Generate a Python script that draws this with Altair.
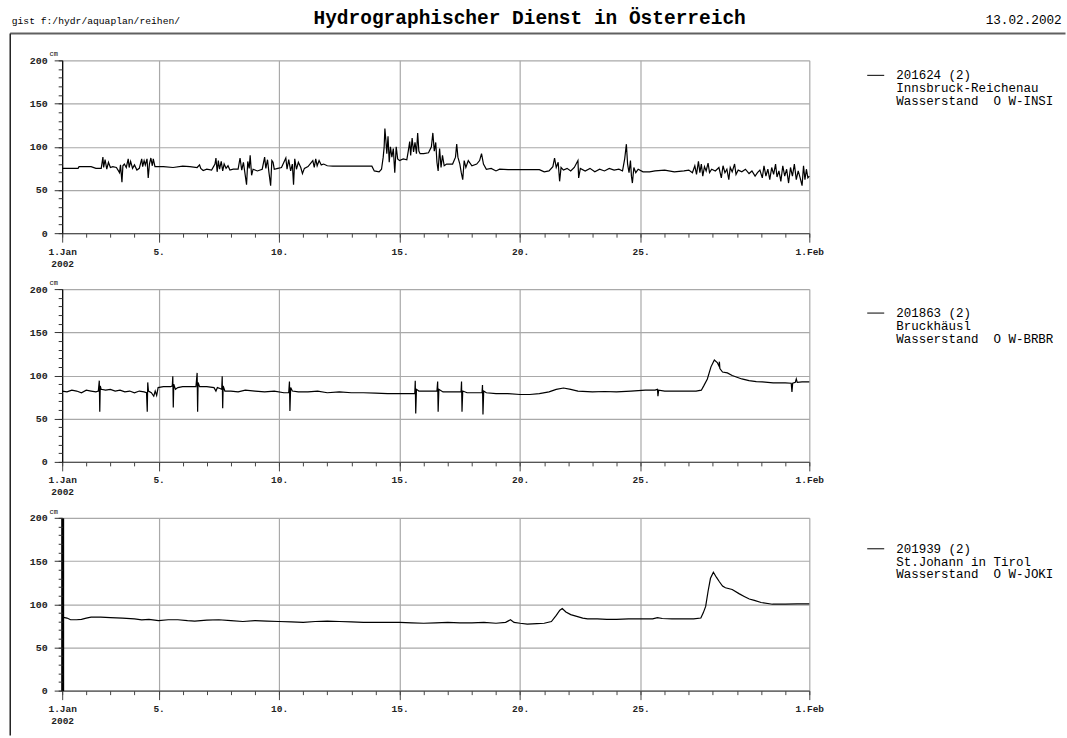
import altair as alt
import pandas as pd

header_left = "gist f:/hydr/aquaplan/reihen/"
header_title = "Hydrographischer Dienst in Österreich"
header_date = "13.02.2002"
unit_label = "cm"

x_tick_days = [1, 5, 10, 15, 20, 25, 32]
x_tick_labels = [["1.Jan", "2002"], ["5."], ["10."], ["15."], ["20."], ["25."], ["1.Feb"]]
x_minor_days = list(range(1, 33))
y_major = [0, 50, 100, 150, 200]
y_minor = list(range(0, 201, 10))

legend_insi = ["201624 (2)", "Innsbruck-Reichenau", "Wasserstand\u00a0\u00a0O W-INSI"]
legend_brbr = ["201863 (2)", "Bruckhäusl", "Wasserstand\u00a0\u00a0O W-BRBR"]
legend_joki = ["201939 (2)", "St.Johann in Tirol", "Wasserstand\u00a0\u00a0O W-JOKI"]

# (day of January, water level in cm)
insi = [
    (1.00, 75), (1.30, 75), (1.66, 75), (1.70, 77), (2.20, 77), (2.40, 75), (2.62, 75),
    (2.69, 88), (2.72, 76), (2.78, 85), (2.85, 74), (2.92, 82), (3.00, 76), (3.10, 77), (3.25, 76),
    (3.38, 70), (3.42, 79), (3.48, 59), (3.52, 78), (3.58, 80), (3.66, 76), (3.74, 86), (3.78, 76),
    (3.84, 83), (3.92, 75), (4.00, 79), (4.10, 73), (4.20, 75),
    (4.30, 86), (4.34, 77), (4.40, 84), (4.45, 79), (4.52, 86), (4.57, 64), (4.62, 80), (4.68, 87),
    (4.74, 78), (4.78, 86), (4.85, 77),
    (5.2, 77), (5.6, 76), (6.0, 77.5), (6.3, 77), (6.6, 76), (6.70, 79), (6.75, 75), (6.85, 72.5),
    (7.0, 74), (7.2, 73),
    (7.34, 80), (7.38, 87), (7.43, 71), (7.48, 84), (7.53, 74), (7.60, 83), (7.66, 72), (7.72, 80),
    (7.80, 75), (7.88, 78), (7.96, 73),
    (8.1, 74), (8.3, 74), (8.38, 87), (8.45, 73), (8.52, 82), (8.58, 70), (8.65, 56), (8.70, 83),
    (8.76, 75), (8.80, 90), (8.86, 67), (8.92, 74),
    (9.1, 72), (9.3, 74), (9.40, 88), (9.45, 75), (9.52, 85), (9.58, 70), (9.65, 55), (9.70, 84),
    (9.75, 82), (9.80, 74), (9.95, 75), (10.1, 76),
    (10.28, 87), (10.33, 74), (10.40, 85), (10.48, 72), (10.55, 80), (10.60, 56), (10.65, 86),
    (10.72, 74), (10.80, 82), (10.90, 76), (10.97, 69), (11.05, 75),
    (11.2, 77), (11.40, 84), (11.46, 76), (11.52, 86), (11.58, 78), (11.66, 84), (11.75, 79),
    (11.85, 80), (12.0, 78), (12.23, 77.5), (13.0, 77.5), (13.85, 77.5),
    (13.95, 72), (14.15, 71), (14.25, 74), (14.32, 88), (14.36, 100), (14.39, 121), (14.43, 108),
    (14.47, 92), (14.52, 112), (14.57, 82), (14.62, 100), (14.68, 88), (14.74, 98), (14.80, 70),
    (14.86, 100), (14.92, 86),
    (15.0, 84), (15.15, 86), (15.3, 85), (15.36, 95), (15.42, 106), (15.46, 90), (15.52, 110),
    (15.58, 94), (15.64, 105), (15.70, 92), (15.75, 116), (15.80, 95), (15.85, 92), (16.0, 92),
    (16.2, 93),
    (16.32, 100), (16.38, 116), (16.44, 95), (16.50, 105), (16.55, 82), (16.60, 72), (16.66, 98),
    (16.72, 76), (16.78, 90), (16.85, 78), (16.95, 80), (17.2, 80),
    (17.32, 88), (17.37, 103), (17.42, 88), (17.50, 80), (17.56, 70), (17.62, 62), (17.68, 84),
    (17.75, 76), (17.85, 84), (18.0, 78), (18.2, 80), (18.32, 84), (18.40, 92), (18.48, 80),
    (18.6, 74), (18.8, 75), (19.0, 72), (19.15, 74),
    (19.5, 73.5), (20.0, 73.5), (20.8, 73.5), (21.0, 71), (21.2, 72), (21.36, 77), (21.43, 87),
    (21.50, 76), (21.58, 82), (21.64, 60), (21.70, 76), (21.80, 73), (21.95, 75), (22.1, 72),
    (22.25, 76), (22.40, 84), (22.43, 64), (22.5, 75), (22.7, 72), (22.9, 75), (23.1, 71),
    (23.3, 74), (23.5, 72), (23.7, 75), (23.9, 73), (24.1, 74), (24.25, 72),
    (24.34, 86), (24.41, 103), (24.46, 80), (24.52, 70), (24.58, 84), (24.62, 66), (24.66, 58),
    (24.72, 76), (24.80, 70), (24.9, 74), (25.1, 71), (25.37, 71),
    (25.6, 72), (26.0, 73), (26.4, 71), (26.8, 72), (27.0, 73), (27.15, 70), (27.25, 78),
    (27.32, 68), (27.40, 83), (27.46, 70), (27.52, 80), (27.58, 66), (27.65, 77), (27.72, 72),
    (27.80, 81), (27.86, 70), (27.95, 74), (28.1, 72), (28.25, 76), (28.35, 64), (28.42, 78),
    (28.5, 70), (28.58, 74), (28.66, 62), (28.72, 76), (28.8, 71), (28.9, 80), (28.96, 68),
    (29.05, 73), (29.2, 71), (29.35, 74), (29.5, 69), (29.62, 72), (29.75, 66), (29.85, 70),
    (29.95, 73), (30.05, 64), (30.12, 78), (30.2, 66), (30.28, 74), (30.36, 62), (30.44, 76),
    (30.52, 68), (30.6, 80), (30.66, 65), (30.74, 72), (30.82, 60), (30.9, 78), (30.98, 66),
    (31.06, 74), (31.14, 58), (31.22, 76), (31.3, 66), (31.38, 80), (31.46, 62), (31.54, 72),
    (31.62, 64), (31.7, 55), (31.76, 78), (31.82, 62), (31.88, 74), (31.94, 64), (32.0, 66),
]

brbr = [
    (1.0, 82), (1.2, 81), (1.4, 83), (1.6, 82), (1.8, 80), (2.0, 83), (2.2, 82), (2.4, 81), (2.50, 82),
    (2.54, 94), (2.56, 58), (2.58, 88), (2.62, 84), (2.8, 83), (3.0, 84), (3.2, 82), (3.4, 83),
    (3.6, 81), (3.8, 82), (4.0, 80), (4.2, 82), (4.4, 81), (4.50, 80),
    (4.53, 58), (4.55, 92), (4.58, 82), (4.7, 80), (4.80, 76), (4.86, 82), (4.92, 77), (4.98, 86),
    (5.2, 87), (5.5, 87), (5.57, 88),
    (5.59, 99), (5.61, 63), (5.63, 90), (5.7, 84), (5.8, 86), (6.0, 87), (6.3, 87), (6.55, 87),
    (6.60, 103), (6.62, 58), (6.64, 92), (6.7, 87), (7.0, 87), (7.3, 86), (7.38, 82), (7.44, 86),
    (7.55, 85), (7.62, 84),
    (7.64, 99), (7.66, 62), (7.68, 88), (7.75, 82), (8.0, 82), (8.3, 81), (8.6, 83), (9.0, 82),
    (9.4, 81), (9.8, 82), (10.2, 80), (10.40, 80),
    (10.43, 93), (10.45, 59), (10.48, 86), (10.55, 82), (10.8, 81), (11.2, 81), (11.6, 82),
    (12.0, 80), (12.5, 81), (13.0, 80), (13.5, 80), (14.0, 79.5), (14.5, 79), (15.0, 79),
    (15.4, 79), (15.63, 79),
    (15.65, 94), (15.67, 56), (15.70, 84), (15.8, 82), (16.0, 82), (16.3, 82), (16.55, 82),
    (16.58, 93), (16.60, 58), (16.63, 84), (16.8, 81), (17.2, 81), (17.55, 81),
    (17.57, 93), (17.59, 58), (17.62, 82), (17.8, 80), (18.1, 80), (18.42, 80),
    (18.44, 89), (18.46, 55), (18.49, 82), (18.6, 80), (19.0, 79), (19.5, 79), (20.0, 78),
    (20.4, 78), (20.8, 79),
    (21.2, 81), (21.5, 84), (21.8, 85.5), (22.1, 84), (22.4, 82), (23.0, 81), (23.5, 81.5),
    (24.0, 81), (24.6, 82), (25.2, 83), (25.6, 83),
    (25.70, 84), (25.72, 76), (25.75, 83), (26.0, 82), (26.5, 82), (27.0, 82), (27.3, 82),
    (27.52, 83), (27.62, 88), (27.77, 96), (27.92, 110), (28.06, 118), (28.18, 115), (28.25, 111),
    (28.27, 116), (28.29, 108), (28.4, 104), (28.6, 103), (28.8, 100), (29.0, 98), (29.2, 96),
    (29.5, 94), (29.8, 93), (30.05, 92.5), (30.5, 91.5), (31.0, 91.5), (31.25, 91),
    (31.28, 81), (31.31, 91), (31.42, 92), (31.46, 96), (31.5, 92), (31.7, 92.5), (32.0, 92.5),
]

joki = [
    (1.0, 85), (1.2, 84), (1.35, 82), (1.6, 82), (1.8, 82.5), (2.0, 84), (2.2, 85), (2.6, 85),
    (3.0, 84.5), (3.5, 84), (4.0, 83), (4.3, 82), (4.6, 82.5), (5.0, 81), (5.4, 82), (5.8, 82),
    (6.2, 81), (6.5, 80.5), (7.0, 81.5), (7.5, 82), (8.0, 81), (8.5, 80), (9.0, 81), (9.5, 80.5),
    (10.0, 80), (10.5, 79.5), (11.0, 79), (11.5, 80), (12.0, 80.5), (12.5, 80), (13.0, 79.5),
    (13.5, 79), (14.0, 79), (14.5, 79), (15.0, 79), (15.5, 78.5), (16.0, 78), (16.5, 78.5),
    (17.0, 79), (17.5, 78.5), (18.0, 78.5), (18.5, 79), (19.0, 78), (19.4, 79), (19.6, 82),
    (19.75, 79), (20.0, 78), (20.3, 77), (20.7, 77.5), (21.0, 78), (21.3, 80), (21.5, 87),
    (21.65, 93), (21.75, 95), (21.9, 91), (22.1, 88), (22.35, 86), (22.6, 84), (22.8, 83),
    (23.2, 83), (23.6, 82.5), (24.0, 82.5), (24.5, 83), (25.0, 83), (25.5, 83), (25.7, 84.5),
    (25.9, 83.5), (26.3, 83), (26.8, 83), (27.2, 83), (27.5, 84), (27.6, 90), (27.7, 97.5),
    (27.8, 115), (27.9, 130), (28.02, 137), (28.15, 131), (28.27, 126), (28.4, 121), (28.52, 119),
    (28.8, 117), (29.1, 112), (29.3, 109), (29.51, 106), (29.72, 104.5), (30.0, 102),
    (30.47, 100), (31.0, 100), (31.5, 100.5), (32.0, 100.5),
]

FONT = "Liberation Mono"
W, H = 748, 173


def label_expr():
    expr = "''"
    for d, lab in reversed(list(zip(x_tick_days, x_tick_labels))):
        arr = "[" + ",".join("'" + s + "'" for s in lab) + "]"
        expr = "datum.value == %s ? %s : (%s)" % (d, arr, expr)
    return expr


dummy = pd.DataFrame({"a": [0]})


def text(x, y, value, size, align="left", weight="normal", line_height=12.8, color="black"):
    return alt.Chart(dummy).mark_text(
        align=align, baseline="alphabetic", font=FONT, fontSize=size,
        fontWeight=weight, lineHeight=line_height, color=color,
    ).encode(x=alt.value(x), y=alt.value(y), text=alt.value(value))


def rule(x, x2, y, y2=None, color="black", width=1.0):
    enc = dict(x=alt.value(x), x2=alt.value(x2), y=alt.value(y))
    if y2 is not None:
        enc["y2"] = alt.value(y2)
    return alt.Chart(dummy).mark_rule(color=color, strokeWidth=width).encode(**enc)


def panel(series, legend, legend_y, thick=False, header=False):
    df = pd.DataFrame(series, columns=["day", "cm"])
    xs = alt.Scale(domain=[1, 32], nice=False, zero=False)
    ys = alt.Scale(domain=[0, 200], nice=False, zero=True)
    line = alt.Chart(df).mark_line(color="black", strokeWidth=1.2).encode(
        x=alt.X("day:Q", scale=xs, axis=alt.Axis(
            orient="bottom", values=x_tick_days, labelExpr=label_expr(), title=None,
            grid=True, gridColor="#a9a9a9", gridWidth=1.2, tickSize=9, tickColor="#444",
            domainColor="#555", domainWidth=1.2, labelFont=FONT, labelFontSize=9.5,
            labelFontWeight="bold", labelColor="#222", labelPadding=4, labelLineHeight=12,
            labelFlush=False, labelBound=False, labelOverlap=False, labelAlign="center")),
        y=alt.Y("cm:Q", scale=ys, axis=alt.Axis(
            orient="left", values=y_major, title=None, grid=True, gridColor="#a9a9a9",
            gridWidth=1.2, tickSize=8, tickColor="#333", domainColor="black",
            domainWidth=3 if thick else 1.2, labelFont=FONT, labelFontSize=10,
            labelFontWeight="bold", labelColor="#222", labelPadding=7, labelFlush=False,
            labelOverlap=False)),
    )
    minor = alt.Chart(df).mark_line(strokeOpacity=0).encode(
        x=alt.X("day:Q", scale=xs, axis=alt.Axis(
            orient="bottom", values=x_minor_days, labels=False, title=None, grid=False,
            domain=False, tickSize=4, tickColor="#444")),
        y=alt.Y("cm:Q", scale=ys, axis=alt.Axis(
            orient="left", values=y_minor, labels=False, title=None, grid=False,
            domain=False, tickSize=4, tickColor="#333")),
    )
    layers = [line, minor,
              text(-8.5, -4, unit_label, 7, align="center"),
              rule(806, 823, legend_y),
              text(835, legend_y + 4, legend, 12.5)]
    if header:
        layers += [
            rule(-40, -30, -59.5, color="white"),
            rule(-52, 1004.5, -27, color="#606060", width=2),
            rule(-52, -52, -27, 676, color="#222", width=1.5),
            text(-50.5, -36, header_left, 9.7),
            text(468, -36.5, header_title, 19.5, align="center", weight="bold"),
            text(1000.7, -36, header_date, 12.7, align="right"),
        ]
    return alt.layer(*layers).resolve_axis(x="independent", y="independent").properties(
        width=W, height=H)


p1 = panel(insi, legend_insi, 15, header=True)
p2 = panel(brbr, legend_brbr, 24)
p3 = panel(joki, legend_joki, 31, thick=True)

chart = alt.vconcat(p1, p2, p3, spacing=56, bounds="flush").properties(
    padding={"left": 9.25, "top": 0, "right": 0, "bottom": 0},
    background="white",
).configure_view(stroke=None)

chart.save("out.html", embed_options={"renderer": "svg", "actions": False})
